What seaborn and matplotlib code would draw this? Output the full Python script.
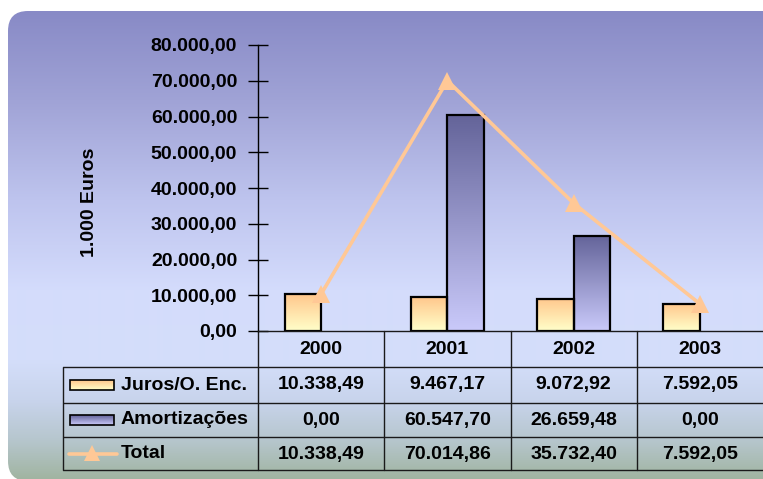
import numpy as np
import pandas as pd
import matplotlib
matplotlib.use("Agg")
import matplotlib.pyplot as plt
import matplotlib.transforms as mtransforms
from matplotlib.patches import FancyBboxPatch, Rectangle
from matplotlib.ticker import FuncFormatter
import seaborn as sns

# ---- data -------------------------------------------------------------
anos = ["2000", "2001", "2002", "2003"]
juros = [10338.49, 9467.17, 9072.92, 7592.05]
amortizacoes = [0.00, 60547.70, 26659.48, 0.00]
total = [10338.49, 70014.86, 35732.40, 7592.05]
series = ["Juros/O. Enc.", "Amortizações", "Total"]
y_ticks = [0, 10000, 20000, 30000, 40000, 50000, 60000, 70000, 80000]
y_label = "1.000 Euros"

# ---- style ------------------------------------------------------------
sns.set_theme(style="white")
plt.rcParams["font.family"] = ["Liberation Sans", "DejaVu Sans"]
plt.rcParams["font.weight"] = "bold"
FS = 14

W, H = 763, 479
juros_top, juros_bot = (1.0, 0.78, 0.55), (1.0, 1.0, 0.79)
amort_top, amort_bot = (0.39, 0.39, 0.60), (0.79, 0.79, 0.98)
line_color = "#ffc896"
grid_color = "#1a1a1a"


def pt(v):
    """Portuguese number format: 12.345,67"""
    s = f"{v:,.2f}"
    return s.replace(",", "X").replace(".", ",").replace("X", ".")


def vgrad(top, bot, n=128):
    t = np.linspace(0, 1, n)[:, None]
    top = np.array(top)[None, :]
    bot = np.array(bot)[None, :]
    return (top * (1 - t) + bot * t)[:, None, :]


fig = plt.figure(figsize=(W / 100, H / 100), dpi=100)
fig.patch.set_facecolor("white")

# ---- background panel with vertical gradient (pixel coordinates) ------
bg = fig.add_axes([0, 0, 1, 1], zorder=-10)
bg.set_xlim(0, W)
bg.set_ylim(H, 0)
bg.axis("off")
stops_y = [11, 100, 200, 290, 360, 400, 440, 479]
stops_c = [(136, 138, 198), (160, 163, 214), (190, 196, 238), (212, 220, 252),
           (212, 222, 250), (200, 212, 236), (182, 198, 205), (160, 180, 160)]
rows = np.arange(H)
bg_img = np.zeros((H, 1, 3))
for ch in range(3):
    bg_img[:, 0, ch] = np.interp(rows, stops_y, [c[ch] for c in stops_c]) / 255
im = bg.imshow(bg_img, extent=[0, W, H, 0], aspect="auto", interpolation="bilinear")
panel = FancyBboxPatch((8, 11), 800, 470, boxstyle="round,pad=0,rounding_size=20",
                       facecolor="none", edgecolor="none", transform=bg.transData)
bg.add_patch(panel)
im.set_clip_path(panel)

# ---- main chart axes --------------------------------------------------
ax = fig.add_axes([258 / W, 1 - 331 / H, (W - 258) / W, 286 / H])
ax.patch.set_alpha(0)

df = pd.DataFrame({
    "Ano": anos * 2,
    "Série": [series[0]] * len(anos) + [series[1]] * len(anos),
    "Valor": juros + amortizacoes,
})
sns.barplot(data=df, x="Ano", y="Valor", hue="Série", hue_order=series[:2],
            palette=[juros_top, amort_top], saturation=1, width=0.58,
            edgecolor="black", linewidth=1.6, legend=False, ax=ax)

# replace the flat fills by vertical gradients
for p in list(ax.patches):
    h = p.get_height()
    if h == 0:
        p.remove()
        continue
    fc = p.get_facecolor()[:3]
    if np.allclose(fc, juros_top, atol=0.02):
        grad = vgrad(juros_top, juros_bot)
    else:
        grad = vgrad(amort_top, amort_bot)
    x0, w = p.get_x(), p.get_width()
    gi = ax.imshow(grad, extent=[x0, x0 + w, 0, h], aspect="auto",
                   interpolation="bilinear", zorder=p.get_zorder() - 0.5)
    gi.set_clip_path(p)
    p.set_facecolor("none")

sns.pointplot(x=anos, y=total, color=line_color, markers="^", errorbar=None,
              linewidth=2.6, markersize=13, markeredgewidth=0, ax=ax)

ax.set_xlim(-0.5, len(anos) - 0.5)
ax.set_ylim(0, 80000)
ax.set_yticks(y_ticks)
ax.yaxis.set_major_formatter(FuncFormatter(lambda v, _: pt(v)))
ax.tick_params(axis="y", direction="inout", length=14, width=1, color="black",
               labelsize=FS, pad=8, left=True)
ax.tick_params(axis="x", length=0, labelsize=FS, pad=7)
ax.set_xlabel("")
ax.set_ylabel("")
for lab in ax.get_xticklabels() + ax.get_yticklabels():
    lab.set_fontweight("bold")
    lab.set_color("black")
for s in ("top", "right"):
    ax.spines[s].set_visible(False)
ax.spines["left"].set_color("black")
ax.spines["left"].set_linewidth(1)
ax.spines["bottom"].set_color(grid_color)
ax.spines["bottom"].set_linewidth(1)

fig.text(89 / W, 1 - 202 / H, y_label, rotation=90, ha="center", va="center",
         fontsize=FS, fontweight="bold", color="black")

# ---- data table under the chart ---------------------------------------
colx = mtransforms.blended_transform_factory(ax.transData, bg.transData)
row_lines = [367, 403, 437, 470]
row_mid = [385, 420, 454]

for y in row_lines:
    bg.plot([63, W], [y, y], color=grid_color, lw=1, solid_capstyle="butt")
bg.plot([63, 63], [367, 470], color=grid_color, lw=1)
for k in range(len(anos)):
    bg.plot([k - 0.5, k - 0.5], [331, 470], color=grid_color, lw=1, transform=colx)

for k in range(len(anos)):
    for vals, ym in zip((juros, amortizacoes, total), row_mid):
        bg.text(k, ym, pt(vals[k]), transform=colx, ha="center", va="center",
                fontsize=FS, fontweight="bold", color="black")

# legend keys and row titles
for (top, bot), ym in zip(((juros_top, juros_bot), (amort_top, amort_bot)), row_mid[:2]):
    key = Rectangle((70, ym - 5), 44, 10, facecolor="none", edgecolor="black",
                    lw=1.2, transform=bg.transData, zorder=3)
    bg.add_patch(key)
    ki = bg.imshow(vgrad(top, bot), extent=[70, 114, ym + 5, ym - 5],
                   aspect="auto", interpolation="bilinear", zorder=2)
    ki.set_clip_path(key)
bg.plot([69, 117], [row_mid[2], row_mid[2]], color=line_color, lw=2.6)
bg.plot([92], [row_mid[2] - 1], marker="^", color=line_color, markersize=12,
        markeredgewidth=0)
bg.set_xlim(0, W)
bg.set_ylim(H, 0)

for name, ym in zip(series, row_mid):
    bg.text(121, ym, name, ha="left", va="center", fontsize=FS,
            fontweight="bold", color="black")

fig.savefig("out.png", dpi=100)
